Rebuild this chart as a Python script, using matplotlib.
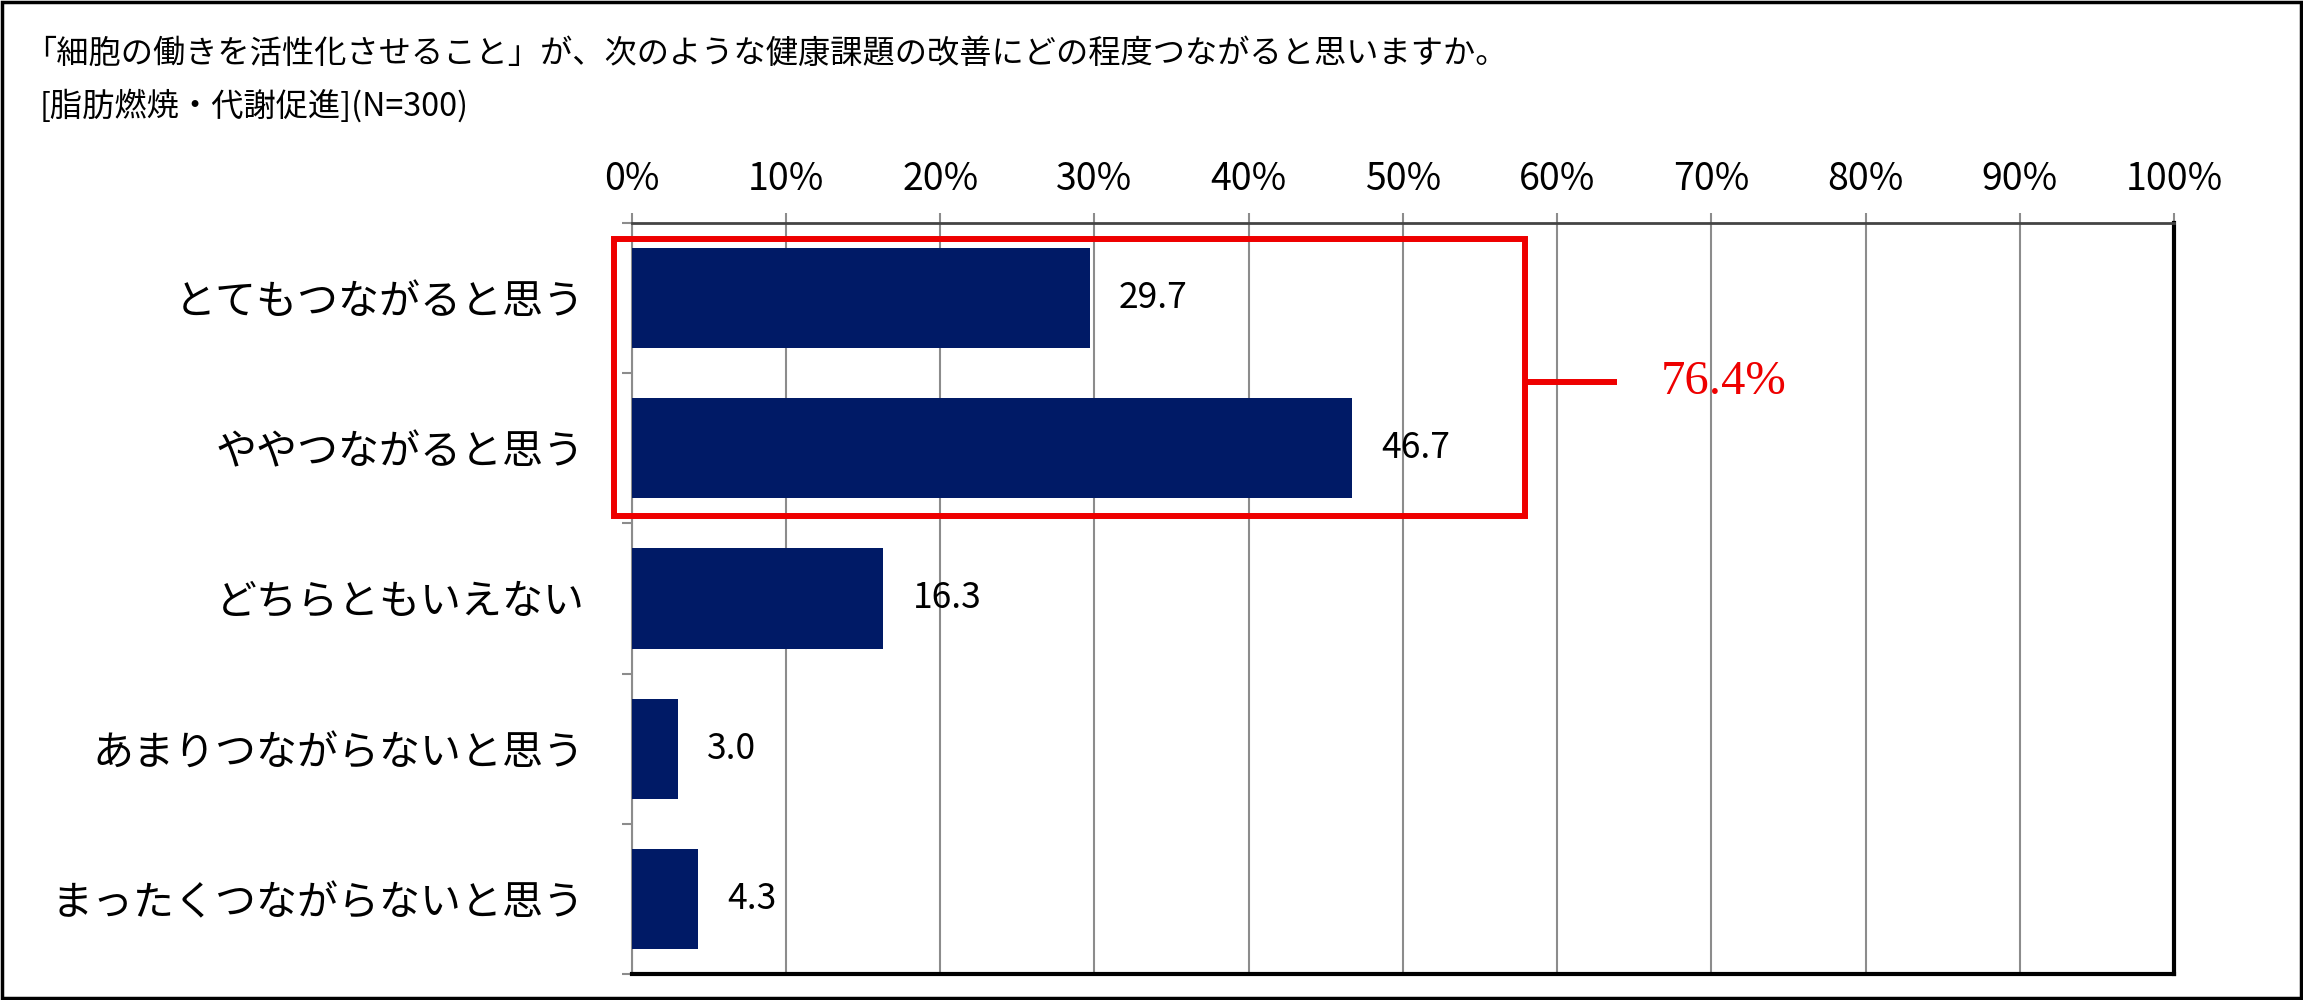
import matplotlib
matplotlib.use("Agg")
import matplotlib.pyplot as plt
from matplotlib.patches import Rectangle
import numpy as np

plt.rcParams['font.family'] = ['Noto Sans CJK JP', 'DejaVu Sans']

title_line1 = "「細胞の働きを活性化させること」が、次のような健康課題の改善にどの程度つながると思いますか。"
title_line2 = "[脂肪燃焼・代謝促進](N=300)"
categories = ["とてもつながると思う", "ややつながると思う", "どちらともいえない",
              "あまりつながらないと思う", "まったくつながらないと思う"]
values = [29.7, 46.7, 16.3, 3.0, 4.3]
xticks = [0, 10, 20, 30, 40, 50, 60, 70, 80, 90, 100]
xtick_labels = [f"{t}%" for t in xticks]
highlight_label = "76.4%"

bar_color = "#001A66"
grid_gray = "#8C8C8C"
red = "#EE0000"

fig = plt.figure(figsize=(23.03, 10), dpi=100)
ax = fig.add_axes([0.2743, 0.026, 0.944 - 0.2743, 0.777 - 0.026])

y = np.arange(len(categories))
ax.barh(y, values, height=0.666, color=bar_color, zorder=3)
for yi, v in zip(y, values):
    ax.text(v + 1.9, yi, f"{v:.1f}", va="center", ha="left", fontsize=25.5, color="black", zorder=4)

ax.set_xlim(0, 100)
ax.set_ylim(len(categories) - 0.5, -0.5)

ax.xaxis.tick_top()
ax.set_xticks(xticks)
ax.set_xticklabels(xtick_labels, fontsize=27)
ax.tick_params(axis="x", direction="out", length=7, width=1.5, color=grid_gray, pad=10)
ax.grid(axis="x", color=grid_gray, linewidth=1.5, zorder=1)

ax.set_yticks(y)
ax.set_yticklabels(categories, fontsize=29.5)
ax.tick_params(axis="y", which="major", length=0, pad=34)
ax.set_yticks(np.arange(-0.5, len(categories), 1.0), minor=True)
ax.tick_params(axis="y", which="minor", length=7, width=1.5, color=grid_gray, direction="out")

ax.spines["left"].set_color(grid_gray)
ax.spines["left"].set_linewidth(1.5)
ax.spines["top"].set_color("#444444")
ax.spines["top"].set_linewidth(2)
ax.spines["right"].set_color("black")
ax.spines["right"].set_linewidth(3)
ax.spines["bottom"].set_color("black")
ax.spines["bottom"].set_linewidth(3)

# highlight box around first two categories
box = Rectangle((-1.14, -0.393), 57.9 + 1.14, 1.451 + 0.393, fill=False,
                edgecolor=red, linewidth=4.3, clip_on=False, zorder=5)
ax.add_patch(box)
ax.plot([57.9, 63.9], [0.558, 0.558], color=red, linewidth=4.3, clip_on=False,
        solid_capstyle="butt", zorder=5)
ax.text(66.7, 0.558, highlight_label, color=red, fontsize=35, va="center", ha="left",
        family=["Liberation Serif", "DejaVu Serif"], clip_on=False, zorder=5)

fig.text(24 / 2303, 1 - 54 / 1000, title_line1, fontsize=23.2, va="center", ha="left")
fig.text(40 / 2303, 1 - 106 / 1000, title_line2, fontsize=23.2, va="center", ha="left")

border = Rectangle((0.001, 0.002), 0.998, 0.996, transform=fig.transFigure, fill=False,
                   edgecolor="black", linewidth=2.5)
fig.patches.append(border)

fig.savefig("out.png", dpi=100, facecolor="white")
